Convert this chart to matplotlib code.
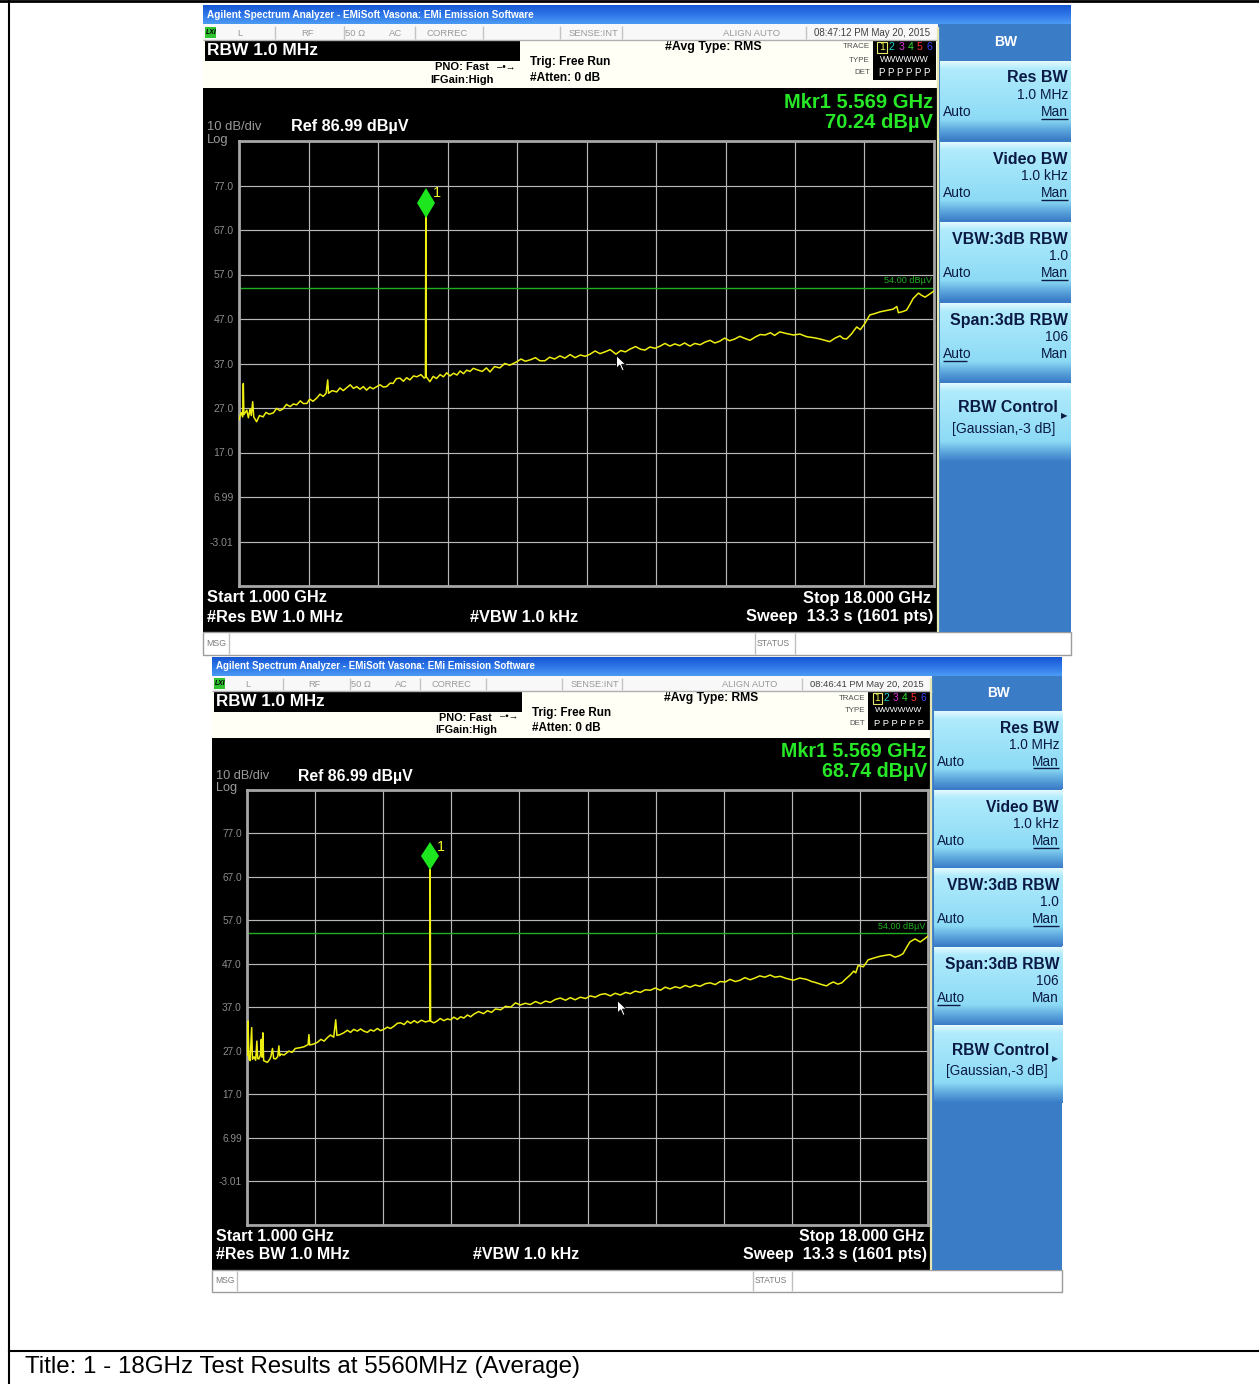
import numpy as np
import matplotlib
matplotlib.use("Agg")
import matplotlib.pyplot as plt
from matplotlib.patches import Rectangle
from matplotlib.path import Path
from matplotlib.colors import to_rgb
import matplotlib.transforms as mtransforms

plt.rcParams['font.family'] = ['Liberation Sans', 'DejaVu Sans']

W, H = 1259, 1384

# sweep / display settings
f_start, f_stop = 1.0, 18.0
ref_level = 86.99
db_per_div = 10
limit_db = 54.00
ytick_labels = ['', '77.0', '67.0', '57.0', '47.0', '37.0', '27.0', '17.0', '6.99', '-3.01', '']

mkr_freq = 5.569
mkr_upper = 70.24
mkr_lower = 68.74

stamp_upper = '08:47:12 PM May 20, 2015'
stamp_lower = '08:46:41 PM May 20, 2015'

cursor_upper = (10.22, 38.9)
cursor_lower = (10.24, 38.6)

title = 'Title: 1 - 18GHz Test Results at 5560MHz (Average)'

# trace, first sweep (GHz / dBuV)
upper_freq = [1.00, 1.05, 1.09, 1.105, 1.12, 1.19, 1.23, 1.27, 1.30, 1.335,
              1.36, 1.43, 1.50, 1.59, 1.66, 1.74, 1.84, 1.92, 2.00, 2.08,
              2.16, 2.25, 2.33, 2.41, 2.50, 2.57, 2.66, 2.73, 2.81, 2.90,
              2.98, 3.06, 3.13, 3.17, 3.19, 3.28, 3.39, 3.47, 3.55, 3.63,
              3.72, 3.80, 3.88, 3.96, 4.04, 4.12, 4.20, 4.28, 4.37, 4.45,
              4.53, 4.61, 4.70, 4.77, 4.85, 4.94, 5.02, 5.10, 5.18, 5.27,
              5.35, 5.45, 5.53, 5.56, mkr_freq, 5.58, 5.67, 5.75, 5.83, 5.92,
              6.00, 6.08, 6.16, 6.25, 6.33, 6.41, 6.49, 6.57, 6.65, 6.73,
              6.85, 6.95, 7.05, 7.14, 7.25, 7.38, 7.50, 7.62, 7.78, 7.90,
              8.00, 8.12, 8.25, 8.36, 8.48, 8.60, 8.72, 8.85, 8.97, 9.10,
              9.22, 9.35, 9.47, 9.59, 9.71, 9.83, 9.95, 10.08, 10.22, 10.34,
              10.45, 10.56, 10.70, 10.82, 10.93, 11.05, 11.18, 11.30, 11.42, 11.54,
              11.66, 11.78, 11.90, 12.03, 12.15, 12.28, 12.40, 12.52, 12.64, 12.76,
              12.88, 13.00, 13.13, 13.25, 13.38, 13.50, 13.62, 13.75, 13.87, 14.00,
              14.10, 14.23, 14.40, 14.56, 14.72, 14.89, 15.05, 15.21, 15.33, 15.45,
              15.58, 15.70, 15.78, 15.86, 15.98, 16.05, 16.11, 16.20, 16.31, 16.43,
              16.55, 16.68, 16.84, 17.00, 17.09, 17.13, 17.25, 17.33, 17.42, 17.49,
              17.62, 17.70, 17.78, 17.88, 17.97, 18.00]
upper_db = [24.3, 26.0, 25.0, 32.5, 25.5, 26.5, 24.8, 26.8, 25.3, 28.4,
            25.0, 23.9, 25.3, 25.0, 26.0, 25.6, 25.9, 26.9, 26.4, 26.8,
            27.8, 27.3, 27.9, 27.7, 28.6, 28.0, 28.0, 29.0, 28.5, 29.2,
            30.1, 29.6, 30.3, 33.3, 30.3, 30.9, 30.6, 31.5, 30.9, 31.5,
            32.2, 31.4, 31.8, 31.2, 31.8, 31.0, 31.7, 31.3, 31.8, 32.2,
            31.7, 31.8, 32.6, 32.5, 33.6, 33.7, 33.0, 33.8, 33.3, 34.2,
            34.0, 34.5, 33.7, 33.9, mkr_upper, 34.0, 32.9, 34.1, 33.6, 34.5,
            34.0, 34.9, 34.2, 34.8, 34.4, 35.3, 34.7, 35.5, 35.2, 35.9,
            35.5, 35.2, 36.0, 35.1, 36.3, 36.0, 37.0, 36.6, 37.3, 38.0,
            37.5, 37.8, 38.3, 37.6, 37.6, 38.4, 38.0, 38.7, 38.2, 39.0,
            38.3, 38.9, 38.6, 39.1, 39.8, 39.2, 39.6, 40.1, 39.1, 39.9,
            39.6, 40.2, 40.8, 40.2, 40.0, 40.7, 40.4, 40.9, 41.5, 40.9,
            41.4, 41.0, 41.6, 40.9, 41.5, 41.2, 41.8, 42.2, 41.6, 42.0,
            42.7, 42.1, 42.5, 43.1, 42.6, 42.2, 42.9, 43.5, 43.4, 43.9,
            43.3, 44.1, 43.7, 43.4, 43.6, 43.0, 42.8, 42.5, 42.2, 41.9,
            42.7, 43.2, 42.6, 42.5, 43.6, 44.5, 45.2, 44.6, 46.0, 47.9,
            48.2, 48.6, 48.9, 49.2, 49.8, 48.4, 48.7, 49.0, 50.4, 51.6,
            52.8, 52.3, 51.9, 52.5, 53.1, 53.3]

# trace, second sweep
lower_freq = [1.00, 1.02, 1.04, 1.07, 1.11, 1.13, 1.17, 1.21, 1.24, 1.26,
              1.29, 1.33, 1.35, 1.37, 1.39, 1.41, 1.50, 1.56, 1.59, 1.63,
              1.66, 1.71, 1.76, 1.79, 1.81, 1.84, 1.92, 2.04, 2.12, 2.20,
              2.33, 2.42, 2.52, 2.54, 2.56, 2.65, 2.75, 2.84, 2.92, 3.00,
              3.08, 3.16, 3.21, 3.24, 3.32, 3.41, 3.50, 3.58, 3.66, 3.75,
              3.83, 3.91, 4.00, 4.08, 4.16, 4.25, 4.33, 4.41, 4.50, 4.58,
              4.66, 4.75, 4.83, 4.92, 5.00, 5.08, 5.17, 5.25, 5.35, 5.45,
              5.56, mkr_freq, 5.58, 5.66, 5.74, 5.82, 5.91, 6.00, 6.08, 6.16,
              6.25, 6.33, 6.41, 6.50, 6.58, 6.66, 6.78, 6.90, 7.00, 7.10,
              7.20, 7.33, 7.45, 7.58, 7.70, 7.82, 7.95, 8.07, 8.20, 8.33,
              8.45, 8.57, 8.70, 8.82, 8.95, 9.07, 9.19, 9.32, 9.45, 9.57,
              9.69, 9.82, 9.94, 10.07, 10.19, 10.32, 10.45, 10.57, 10.69, 10.82,
              10.94, 11.07, 11.19, 11.32, 11.44, 11.56, 11.69, 11.81, 11.94, 12.06,
              12.19, 12.31, 12.44, 12.56, 12.69, 12.81, 12.94, 13.06, 13.19, 13.31,
              13.43, 13.56, 13.68, 13.80, 13.93, 14.06, 14.18, 14.31, 14.47, 14.64,
              14.80, 14.97, 15.10, 15.22, 15.35, 15.47, 15.55, 15.64, 15.75, 15.85,
              15.95, 16.06, 16.15, 16.20, 16.26, 16.39, 16.51, 16.65, 16.80, 16.92,
              17.05, 17.18, 17.28, 17.38, 17.46, 17.55, 17.68, 17.81, 17.90, 17.97, 18.00]
lower_db = [26.0, 33.8, 25.1, 24.7, 32.3, 25.0, 25.6, 24.8, 29.2, 25.2,
            25.1, 26.0, 29.6, 25.5, 31.1, 24.7, 24.3, 25.0, 25.6, 27.5,
            25.2, 25.1, 25.6, 28.1, 25.8, 26.2, 26.0, 26.9, 26.6, 27.5,
            27.7, 27.9, 28.4, 30.7, 28.3, 28.5, 28.9, 29.6, 29.2, 30.0,
            30.6, 30.1, 34.1, 30.5, 30.7, 31.1, 31.7, 31.2, 31.9, 31.5,
            32.0, 31.5, 31.2, 31.8, 31.5, 32.1, 31.6, 31.9, 32.4, 32.1,
            32.6, 33.3, 33.4, 33.0, 33.8, 33.3, 33.9, 33.4, 34.0, 33.6,
            33.9, mkr_lower, 33.8, 33.4, 33.8, 34.4, 33.9, 34.3, 34.1, 34.7,
            34.2, 34.8, 34.5, 35.2, 34.8, 35.4, 36.0, 35.5, 36.2, 35.8,
            36.6, 36.4, 37.2, 37.0, 38.0, 37.5, 37.9, 37.6, 38.3, 37.8,
            38.4, 38.1, 38.8, 39.1, 38.6, 39.2, 38.7, 39.3, 39.0, 39.6,
            39.3, 39.9, 40.1, 39.6, 40.2, 39.8, 40.4, 40.1, 40.7, 40.4,
            41.0, 40.9, 41.4, 40.9, 41.6, 41.2, 41.7, 41.4, 42.0, 41.6,
            42.1, 41.8, 42.4, 42.6, 42.2, 42.9, 42.8, 43.4, 42.9, 43.2,
            43.8, 43.3, 43.7, 44.2, 43.9, 44.4, 43.9, 44.1, 43.6, 43.2,
            43.7, 43.4, 42.9, 42.6, 42.2, 41.9, 42.4, 42.8, 42.3, 42.6,
            43.5, 44.4, 45.3, 44.9, 46.6, 46.3, 47.9, 48.3, 48.7, 48.9,
            49.1, 48.5, 48.8, 49.3, 50.6, 52.0, 52.7, 52.0, 52.6, 53.1, 53.3]

fig = plt.figure(figsize=(W / 100, H / 100), dpi=100)
fig.patch.set_facecolor('white')
bg = fig.add_axes([0, 0, 1, 1])
bg.set_xlim(0, W)
bg.set_ylim(H, 0)
bg.set_autoscale_on(False)
bg.axis('off')


def grad(x0, y0, x1, y1, stops, z=2):
    pos = [p for p, c in stops]
    cols = np.array([to_rgb(c) for p, c in stops])
    t = np.linspace(0, 1, 128)
    img = np.stack([np.interp(t, pos, cols[:, i]) for i in range(3)], axis=-1)[:, None, :]
    bg.imshow(img, extent=(x0, x1, y1, y0), aspect='auto', zorder=z,
              interpolation='bilinear')


# mouse pointer shape (tip at origin)
arrow_path = Path([(0, 0), (0, -16), (4, -12), (7, -19), (9.5, -18), (6.5, -11),
                   (11.5, -11), (0, 0)], closed=True)


def screen(ox, oy, sx, sy, stamp, mkr_db, freqs, levels, cursor):
    X = lambda x: ox + (x - 203) * sx
    Y = lambda y: oy + (y - 5) * sy
    fs = sy

    def box(x0, y0, x1, y1, fc, ec='none', lw=0, z=2):
        bg.add_patch(Rectangle((X(x0), Y(y0)), X(x1) - X(x0), Y(y1) - Y(y0),
                               facecolor=fc, edgecolor=ec, linewidth=lw, zorder=z))

    def label(x, y, s, size, color='black', weight='normal', ha='left', **kw):
        bg.text(X(x), Y(y), s, fontsize=size * fs, color=color, fontweight=weight,
                ha=ha, va='center', zorder=6, **kw)

    def seg(x0, y0, x1, y1, color, lw=1, z=5):
        bg.plot([X(x0), X(x1)], [Y(y0), Y(y1)], color=color, lw=lw, zorder=z,
                solid_capstyle='butt')

    # window title bar
    grad(X(203), Y(5), X(1071), Y(24), [(0, '#1656d2'), (0.5, '#2e76e8'), (1, '#4b9bf4')])
    label(207, 14.5, 'Agilent Spectrum Analyzer - EMiSoft Vasona: EMi Emission Software',
          7.2, 'white', 'bold')

    # status row
    box(203, 24, 938, 40, '#f8f8f8')
    seg(203, 40, 938, 40, '#b0b0b0')
    for xs in [275, 344, 415, 483, 560, 622, 806]:
        seg(xs, 26, xs, 39, '#c4c4c4')
    box(205, 27, 216, 38, '#2fc42f')
    label(206, 32.5, 'LXI', 5, 'black', 'bold', style='italic')
    for x, s in [(240, 'L'), (308, 'RF'), (355, '50 Ω'), (396, 'AC'), (447, 'CORREC'),
                 (594, 'SENSE:INT'), (752, 'ALIGN AUTO')]:
        label(x, 33, s, 6.8, '#9a9a9a', ha='center')
    label(872, 33, stamp, 7, '#404040', ha='center')

    # settings header
    box(203, 40, 938, 88, '#fffff6')
    box(205, 41, 520, 61, 'black', z=3)
    label(207, 50.5, 'RBW 1.0 MHz', 12.5, 'white', 'bold')
    label(489, 67, 'PNO: Fast', 8, 'black', 'bold', ha='right')
    label(494, 80, 'IFGain:High', 8, 'black', 'bold', ha='right')
    label(497, 66, '–•→', 7, 'black')
    label(530, 62, 'Trig: Free Run', 8.6, 'black', 'bold')
    label(530, 78, '#Atten: 0 dB', 8.6, 'black', 'bold')
    label(665, 47, '#Avg Type: RMS', 8.9, 'black', 'bold')
    label(870, 47, 'TRACE', 5.8, '#505050', ha='right')
    label(870, 60, 'TYPE', 5.8, '#505050', ha='right')
    label(870, 73, 'DET', 5.8, '#505050', ha='right')
    box(873, 41, 936, 80, 'black', z=3)
    box(877.5, 41.5, 887.5, 53, 'none', '#e8e86a', 0.8, z=4)
    for i, c in enumerate(['#f2f24a', '#18d0d0', '#e030e0', '#30e030', '#ff3030', '#3844ff']):
        label(882.5 + i * 9.3, 47.3, str(i + 1), 7.6, c, ha='center')
    label(904.5, 60, 'W' + 'W' * 5, 6.2, 'white', ha='center')
    label(904.5, 73, 'P P P P P P', 7, 'white', ha='center')

    # display area
    box(203, 88, 938, 632, 'black')
    label(933, 102, 'Mkr1 5.569 GHz', 14.5, '#27e827', 'bold', ha='right')
    label(933, 122, f'{mkr_db:.2f} dBµV', 14.5, '#27e827', 'bold', ha='right')
    label(207, 126.5, '10 dB/div', 9.4, '#9a9a9a')
    label(207, 139.5, 'Log', 9.4, '#9a9a9a')
    label(291, 127, f'Ref {ref_level:.2f} dBµV', 11.7, 'white', 'bold')
    label(207, 598, 'Start 1.000 GHz', 11.8, 'white', 'bold')
    label(207, 617, '#Res BW 1.0 MHz', 11.8, 'white', 'bold')
    label(470, 617, '#VBW 1.0 kHz', 11.8, 'white', 'bold')
    label(931, 598, 'Stop 18.000 GHz', 11.8, 'white', 'bold', ha='right')
    label(933, 617, 'Sweep  13.3 s (1601 pts)', 11.8, 'white', 'bold', ha='right')

    # message bar
    box(203, 632, 1071, 655, 'white', '#9c9c9c', 1)
    seg(229, 633, 229, 654, '#c0c0c0')
    seg(755, 633, 755, 654, '#c0c0c0')
    seg(795, 633, 795, 654, '#c0c0c0')
    label(206, 643.5, 'MSG', 6.3, '#7a7a7a')
    label(757, 643.5, 'STATUS', 6.3, '#7a7a7a')

    # softkey panel
    box(938, 24, 1071, 632, '#3b7cc7')
    seg(937.6, 27, 937.6, 632, '#e6e6b0', 1.6)
    label(1006, 42, 'BW', 10, 'white', 'bold', ha='center')
    navy = '#0b1a45'
    key_tops = [61, 142, 222, 303, 383]
    for t in key_tops:
        grad(X(940), Y(t), X(1071), Y(t + 79),
             [(0, '#e4faff'), (0.1, '#b0ebfc'), (0.74, '#8cdaf5'),
              (0.88, '#5ba5dc'), (1, '#3b7cc7')], z=3)
    keys = [('Res BW', '1.0 MHz', 'Man'), ('Video BW', '1.0 kHz', 'Man'),
            ('VBW:3dB RBW', '1.0', 'Man'), ('Span:3dB RBW', '106', 'Auto')]
    for t, (name, val, sel) in zip(key_tops, keys):
        label(1068, t + 17, name, 11.5, navy, 'bold', ha='right')
        label(1068, t + 34, val, 10, navy, ha='right')
        label(943, t + 51, 'Auto', 10, navy)
        label(1068, t + 51, 'Man', 10, navy, ha='right')
        if sel == 'Man':
            seg(1041, t + 58, 1068, t + 58, navy, 1, z=7)
        else:
            seg(943, t + 58, 967, t + 58, navy, 1, z=7)
    label(1008, 408, 'RBW Control', 11.5, navy, 'bold', ha='center')
    label(1004, 429, '[Gaussian,-3 dB]', 10, navy, ha='center')
    label(1061, 417, '▶', 6, navy)

    # graticule
    gx0, gy0, gx1, gy1 = X(239), Y(141), X(934), Y(586)
    ax = fig.add_axes([gx0 / W, 1 - gy1 / H, (gx1 - gx0) / W, (gy1 - gy0) / H])
    ax.set_facecolor('black')
    ax.set_xlim(f_start, f_stop)
    ax.set_ylim(ref_level - 10 * db_per_div, ref_level)
    ax.set_xticks(np.linspace(f_start, f_stop, 11))
    ax.set_xticklabels([])
    ax.set_yticks([ref_level - k * db_per_div for k in range(11)])
    ax.set_yticklabels(ytick_labels)
    ax.tick_params(axis='both', length=0)
    ax.tick_params(axis='y', pad=4, labelsize=7.5 * fs, labelcolor='#8c8c8c')
    ax.grid(True, color='#b8b8b8', lw=0.85)
    ax.set_axisbelow(True)
    for sp in ax.spines.values():
        sp.set_color('#a6a6a6')
        sp.set_linewidth(2)

    ax.axhline(limit_db, color='#1fb01f', lw=1, zorder=2)
    ax.text(f_stop - 0.05, limit_db + 0.6, f'{limit_db:.2f} dBµV', color='#1fb01f',
            fontsize=6.6 * fs, ha='right', va='bottom', zorder=2)
    ax.plot(freqs, levels, color='#eeee10', lw=1.1, zorder=3)

    mk = mtransforms.offset_copy(ax.transData, fig=fig, x=0, y=13 * sy, units='dots')
    ax.plot([mkr_freq], [mkr_db], marker='d', ms=15 * fs, color='#1ee61e', mew=0,
            transform=mk, zorder=4, clip_on=False)
    lt = mtransforms.offset_copy(ax.transData, fig=fig, x=7 * sx, y=23 * sy, units='dots')
    ax.text(mkr_freq, mkr_db, '1', color='#f4f42a', fontsize=10.5 * fs, ha='left',
            va='center', transform=lt, zorder=4)
    ax.plot([cursor[0]], [cursor[1]], marker=arrow_path, ms=22 * fs, mfc='white',
            mec='black', mew=0.7, zorder=5)


screen(203, 5, 1.0, 1.0, stamp_upper, mkr_upper, upper_freq, upper_db, cursor_upper)
screen(212, 657, 850 / 868, 635 / 650, stamp_lower, mkr_lower, lower_freq, lower_db,
       cursor_lower)

# page frame and caption
bg.plot([9, 9], [0, H], color='black', lw=1.5, zorder=8)
bg.plot([0, W], [1, 1], color='black', lw=2, zorder=8)
bg.plot([9, W], [1351, 1351], color='black', lw=1.5, zorder=8)
bg.text(25, 1367, title, fontsize=17.4, color='black', ha='left', va='center', zorder=8)

fig.savefig('out.png', dpi=100, facecolor='white')
